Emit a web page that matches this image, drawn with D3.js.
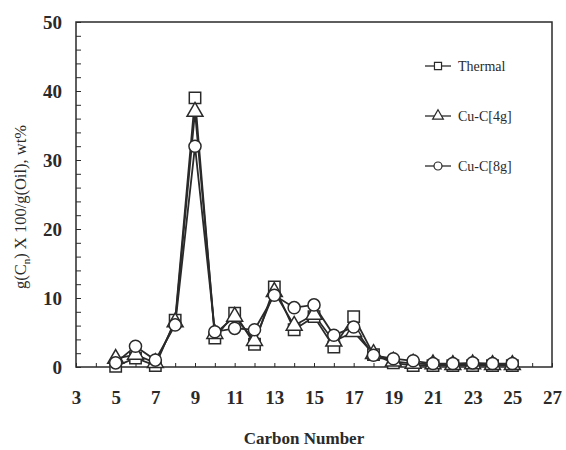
<!DOCTYPE html>
<html><head><meta charset="utf-8">
<script src="https://cdn.jsdelivr.net/npm/d3@7"></script>
<style>body{margin:0;background:#fff}svg{display:block}</style>
</head><body>
<script>
const carbon = [5,6,7,8,9,10,11,12,13,14,15,16,17,18,19,20,21,22,23,24,25];
const thermal = [0.1,1.3,0.2,6.8,39,4.2,7.8,3.3,11.6,5.4,7.3,2.9,7.3,1.8,0.6,0.2,0.2,0.2,0.2,0.2,0.2];
const cu4g =    [1.2,1.8,0.6,6.5,37,4.8,7.3,3.8,10.9,6.0,7.6,3.7,5.1,1.9,0.8,0.5,0.4,0.3,0.4,0.3,0.3];
const cu8g =    [0.6,3.0,1.0,6.1,32,5.1,5.6,5.4,10.4,8.6,9.0,4.6,5.8,1.7,1.2,0.9,0.5,0.5,0.6,0.5,0.5];
const seriesNames = ["Thermal","Cu-C[4g]","Cu-C[8g]"];
const xTickLabels = [3,5,7,9,11,13,15,17,19,21,23,25,27];
const yTickLabels = [0,10,20,30,40,50];

const W=566,H=450;
const L=76,R=552,T=22,B=367;
const svg=d3.select("body").append("svg").attr("width",W).attr("height",H);
const x=d3.scaleLinear().domain([3,27]).range([L,R]);
const y=d3.scaleLinear().domain([0,50]).range([B,T]);
const ink="#2a2a2a";
const font="'Liberation Serif', 'DejaVu Serif', serif";

// frame
svg.append("rect").attr("x",L).attr("y",T).attr("width",R-L).attr("height",B-T)
  .attr("fill","none").attr("stroke",ink).attr("stroke-width",1.5);

// y axis
const yAx=svg.append("g").attr("transform",`translate(${L},0)`)
  .call(d3.axisLeft(y).tickValues(d3.range(0,51,2)).tickSize(-5).tickFormat(""));
yAx.select(".domain").remove();
yAx.selectAll("line").attr("stroke",ink).attr("stroke-width",1);
const yLab=svg.append("g").attr("transform",`translate(${L},0)`)
  .call(d3.axisLeft(y).tickValues(yTickLabels).tickSize(0).tickPadding(14));
yLab.select(".domain").remove();
yLab.selectAll("text").attr("font-family",font).attr("font-size",19).attr("font-weight","bold").attr("fill",ink);

// x axis
const xAx=svg.append("g").attr("transform",`translate(0,${B})`)
  .call(d3.axisBottom(x).tickValues(d3.range(3,28,1)).tickSize(-4).tickFormat(""));
xAx.select(".domain").remove();
xAx.selectAll("line").attr("stroke",ink).attr("stroke-width",1);
const xLab=svg.append("g").attr("transform",`translate(0,${B})`)
  .call(d3.axisBottom(x).tickValues(xTickLabels).tickSize(0).tickPadding(24));
xLab.select(".domain").remove();
xLab.selectAll("text").attr("font-family",font).attr("font-size",19).attr("font-weight","bold").attr("fill",ink);

// titles
svg.append("text").attr("x",304).attr("y",444).attr("text-anchor","middle")
  .attr("font-family",font).attr("font-size",17).attr("font-weight","bold").attr("fill",ink)
  .text("Carbon Number");
const yt=svg.append("text").attr("transform","translate(26,207) rotate(-90)").attr("text-anchor","middle")
  .attr("font-family",font).attr("font-size",16.5).attr("fill",ink);
yt.append("tspan").text("g(C");
yt.append("tspan").attr("font-size",11).attr("dy",4).text("n");
yt.append("tspan").attr("dy",-4).text(") X 100/g(Oil), wt%");

// series
const sets=[thermal,cu4g,cu8g];
const syms=[d3.symbolSquare,d3.symbolTriangle,d3.symbolCircle];
const sizes=[130,110,115];
const line=d3.line().x((d,i)=>x(carbon[i])).y(d=>y(d));
sets.forEach((s,k)=>{
  svg.append("path").datum(s).attr("d",line).attr("fill","none").attr("stroke",ink).attr("stroke-width",1.8);
});
sets.forEach((s,k)=>{
  svg.append("g").selectAll("path").data(s).join("path")
    .attr("transform",(d,i)=>`translate(${x(carbon[i])},${y(d)})`)
    .attr("d",d3.symbol(syms[k],sizes[k]))
    .attr("fill","#fff").attr("stroke",ink).attr("stroke-width",1.5);
});

// legend
const legY=[66,116,166];
seriesNames.forEach((n,k)=>{
  const g=svg.append("g");
  g.append("line").attr("x1",425).attr("x2",451).attr("y1",legY[k]).attr("y2",legY[k]).attr("stroke",ink).attr("stroke-width",1.3);
  g.append("path").attr("transform",`translate(438,${legY[k]})`).attr("d",d3.symbol(syms[k],50))
    .attr("fill","#fff").attr("stroke",ink).attr("stroke-width",1.2);
  g.append("text").attr("x",458).attr("y",legY[k]+5).attr("font-family",font).attr("font-size",14)
    .attr("fill",ink).text(n);
});
</script>
</body></html>
